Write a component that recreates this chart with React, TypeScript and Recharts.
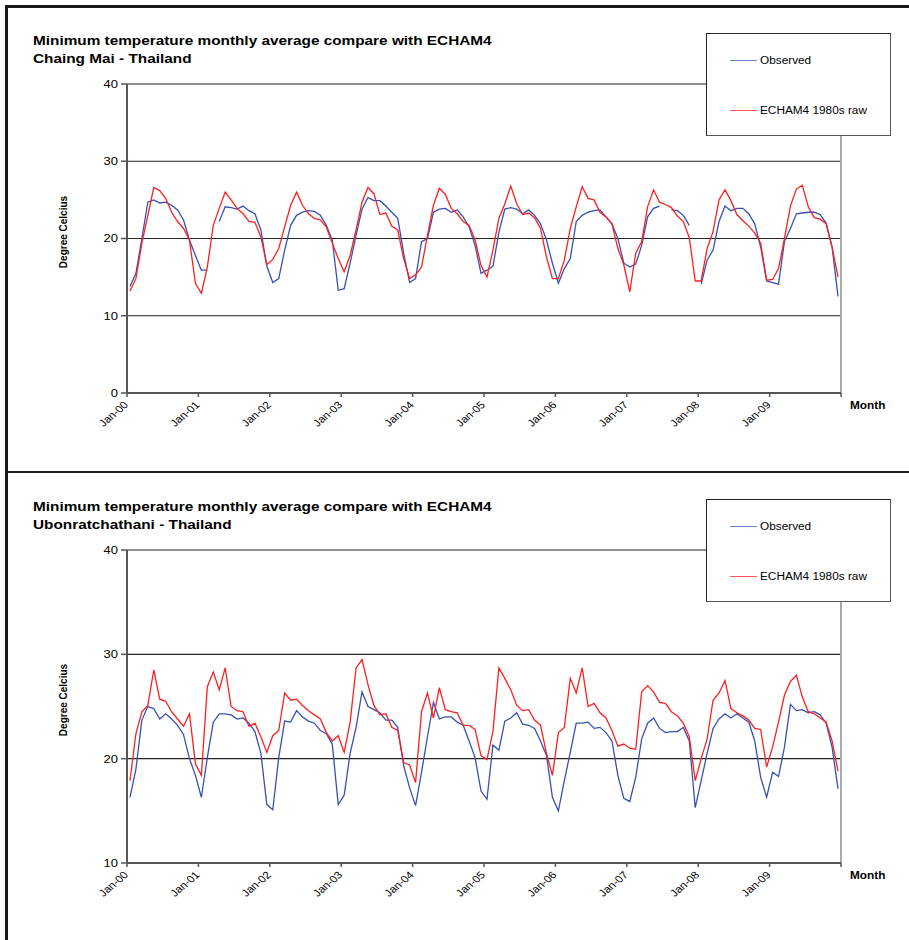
import React from 'react';
import { LineChart, Line, XAxis, YAxis, CartesianGrid, ReferenceLine } from 'recharts';

// one label per January, Jan-00 .. Jan-09 (axis runs over 120 months)
const yearLabels = ['Jan-00', 'Jan-01', 'Jan-02', 'Jan-03', 'Jan-04', 'Jan-05', 'Jan-06', 'Jan-07', 'Jan-08', 'Jan-09'];
const seriesNames = ['Observed', 'ECHAM4 1980s raw'];

// Chaing Mai, monthly min temperature (deg C), Jan-00 .. Dec-09, one row per year
const chiangMaiObserved: (number | null)[] = [
    13.8, 15.5, 20.0, 24.7, 25.0, 24.6, 24.7, 24.3, 23.7, 22.4, 19.8, 17.8,
    15.9, 15.9, null, 22.2, 24.1, 24.0, 23.8, 24.2, 23.6, 23.2, 21.1, 16.4,
    14.3, 14.8, 18.5, 21.7, 23.0, 23.4, 23.6, 23.5, 23.0, 21.7, 19.8, 13.3,
    13.5, 16.8, 20.4, 23.8, 25.3, 24.9, 24.9, 24.2, 23.4, 22.6, 18.1, 14.3,
    14.8, 19.6, 20.0, 23.4, 23.8, 23.9, 23.4, 23.7, 22.8, 21.5, 19.1, 15.5,
    15.9, 16.4, 20.8, 23.8, 24.0, 23.8, 23.2, 23.7, 23.0, 21.9, 19.8, 16.8,
    14.2, 16.1, 17.4, 22.2, 23.0, 23.4, 23.6, 23.7, 22.8, 21.9, 20.0, 16.8,
    16.3, 16.7, 19.1, 22.8, 23.9, 24.2, null, 23.7, 23.6, 23.0, 21.7, null,
    14.1, 17.2, 18.5, 22.2, 24.2, 23.6, 23.9, 23.9, 23.2, 21.9, 18.9, 14.5,
    14.3, 14.1, 19.6, 21.3, 23.2, 23.3, 23.4, 23.4, 23.1, 22.0, 18.9, 12.5,
];
const chiangMaiEcham: number[] = [
    13.2, 14.8, 19.4, 23.0, 26.6, 26.2, 25.2, 23.4, 22.2, 21.3, 19.8, 14.2,
    12.9, 16.3, 21.7, 23.9, 26.0, 25.0, 23.9, 23.2, 22.2, 22.1, 20.2, 16.6,
    17.3, 18.7, 21.5, 24.3, 26.0, 24.3, 23.2, 22.6, 22.4, 21.5, 19.4, 17.4,
    15.7, 17.8, 21.1, 24.7, 26.6, 25.8, 23.1, 23.3, 21.6, 21.1, 17.4, 14.8,
    15.3, 16.3, 20.4, 24.3, 26.5, 25.7, 23.9, 23.2, 22.2, 21.7, 19.8, 16.5,
    15.0, 18.5, 22.6, 24.5, 26.8, 24.5, 23.1, 23.3, 22.7, 21.3, 17.6, 14.8,
    14.8, 17.2, 21.3, 24.1, 26.7, 25.2, 25.0, 23.4, 22.8, 21.9, 18.7, 16.6,
    13.1, 18.1, 19.6, 24.1, 26.3, 24.7, 24.4, 24.0, 22.9, 22.2, 20.1, 14.5,
    14.5, 18.7, 20.9, 25.0, 26.3, 24.9, 23.1, 22.3, 21.6, 20.7, 19.4, 14.6,
    14.7, 16.1, 20.0, 24.2, 26.4, 26.9, 24.1, 22.7, 22.5, 21.9, 18.9, 15.0,
];

// Ubonratchathani
const ubonObserved: number[] = [
    16.3, 19.0, 23.7, 25.0, 24.8, 23.8, 24.3, 23.8, 23.2, 22.3, 20.0, 18.4,
    16.3, 20.1, 23.5, 24.3, 24.3, 24.2, 23.8, 23.9, 23.4, 22.6, 20.5, 15.6,
    15.1, 20.1, 23.6, 23.5, 24.6, 24.0, 23.6, 23.4, 22.7, 22.4, 21.4, 15.6,
    16.5, 20.5, 23.0, 26.4, 25.0, 24.7, 24.4, 23.7, 23.7, 23.0, 19.3, 17.2,
    15.5, 18.7, 22.1, 25.4, 23.8, 24.0, 24.0, 23.5, 23.2, 21.7, 20.1, 16.9,
    16.1, 21.3, 20.8, 23.6, 23.9, 24.4, 23.3, 23.2, 22.9, 21.7, 20.3, 16.3,
    15.0, 17.9, 20.6, 23.4, 23.4, 23.5, 22.9, 23.0, 22.5, 21.7, 18.4, 16.2,
    15.9, 18.2, 21.9, 23.4, 23.9, 22.9, 22.5, 22.6, 22.6, 23.0, 21.7, 15.3,
    17.9, 20.5, 22.9, 23.8, 24.3, 23.9, 24.3, 23.9, 23.5, 21.7, 18.2, 16.3,
    18.7, 18.3, 21.1, 25.2, 24.6, 24.7, 24.4, 24.5, 24.2, 23.4, 21.1, 17.1,
];
const ubonEcham: number[] = [
    17.9, 22.4, 24.5, 25.1, 28.5, 25.7, 25.5, 24.5, 23.8, 23.1, 24.3, 19.5,
    18.4, 26.9, 28.3, 26.6, 28.7, 25.0, 24.6, 24.5, 23.1, 23.4, 22.1, 20.6,
    22.2, 22.7, 26.3, 25.6, 25.7, 25.1, 24.6, 24.2, 23.8, 22.5, 21.7, 22.2,
    20.6, 23.5, 28.7, 29.5, 27.1, 25.1, 24.2, 24.3, 23.0, 22.7, 19.6, 19.4,
    17.7, 24.5, 26.3, 23.9, 26.8, 24.7, 24.5, 24.4, 23.2, 23.2, 22.8, 20.3,
    19.9, 22.6, 28.7, 27.7, 26.6, 25.1, 24.6, 24.7, 23.7, 23.2, 20.5, 18.4,
    22.5, 23.0, 27.7, 26.3, 28.7, 25.0, 25.3, 24.4, 23.9, 22.7, 21.2, 21.4,
    21.0, 20.9, 26.4, 27.0, 26.4, 25.4, 25.3, 24.5, 24.1, 23.4, 22.1, 17.9,
    20.0, 21.9, 25.6, 26.3, 27.5, 24.8, 24.4, 24.1, 23.7, 22.9, 22.8, 19.2,
    21.1, 23.5, 26.1, 27.4, 28.0, 25.9, 24.5, 24.3, 23.9, 23.5, 21.7, 18.8,
];

const BLUE = '#3452b4';
const RED = '#ff1f1f';
const FONT = 'Arial, "Liberation Sans", Helvetica, sans-serif';
const STRETCH = 1.18; // the source picture is a little wider than tall

const monthTicks = [0, 12, 24, 36, 48, 60, 72, 84, 96, 108, 120];

const YTick = (props: any) => {
    const { x, y, payload } = props;
    return (
        <g transform={`translate(${x},${y}) scale(${STRETCH},1)`}>
            <text x={0} y={0} dy="0.36em" textAnchor="end" fontSize={11} fill="#000" fontFamily={FONT}>
                {payload.value}
            </text>
        </g>
    );
};

const XTick = (props: any) => {
    const { x, y, payload } = props;
    const label = yearLabels[payload.value / 12] ?? '';
    return (
        <g transform={`translate(${x - 1},${y}) scale(${STRETCH},1) rotate(-45)`}>
            <text x={0} y={0} dy="0.36em" textAnchor="end" fontSize={10} fill="#000" fontFamily={FONT}>
                {label}
            </text>
        </g>
    );
};

interface PanelProps {
    top: number;
    height: number;
    place: string;
    observed: (number | null)[];
    echam: number[];
    yMin: number;
    plotTop: number;
    plotBottom: number;
    titleTop: number;
    labelY: number;
    legendTop: number;
}

const Panel: React.FC<PanelProps> = ({ top, height, place, observed, echam, yMin, plotTop, plotBottom, titleTop, labelY, legendTop }) => {
    const data = echam.map((v, i) => ({ m: i + 0.5, obs: observed[i], echam: v }));
    const yTicks = [];
    for (let t = yMin; t <= 40; t += 10) yTicks.push(t);
    const marginTop = plotTop - top;
    const marginBottom = top + height - plotBottom - 60;

    return (
        <div style={{ position: 'absolute', left: 0, top, width: 909, height }}>
            <LineChart width={909} height={height} data={data}
                margin={{ top: marginTop, right: 68, bottom: marginBottom, left: 0 }}>
                <CartesianGrid vertical={false} stroke="#222" strokeWidth={1.2} />
                <XAxis dataKey="m" type="number" domain={[0, 120]} ticks={monthTicks} interval={0}
                    height={60} tickSize={4} tickMargin={6} tick={<XTick />}
                    axisLine={{ stroke: '#555', strokeWidth: 2 }} tickLine={{ stroke: '#555', strokeWidth: 1.5 }} />
                <YAxis domain={[yMin, 40]} ticks={yTicks} width={127} tickSize={6} tickMargin={3}
                    tick={<YTick />} axisLine={{ stroke: '#555', strokeWidth: 2 }} tickLine={{ stroke: '#555', strokeWidth: 1.5 }} />
                <ReferenceLine x={120} stroke="#aaa" strokeWidth={2} />
                <Line type="linear" dataKey="obs" name={seriesNames[0]} stroke={BLUE} strokeWidth={1.3}
                    dot={false} isAnimationActive={false} />
                <Line type="linear" dataKey="echam" name={seriesNames[1]} stroke={RED} strokeWidth={1.3}
                    dot={false} isAnimationActive={false} />
            </LineChart>

            <div style={{ ...styles.title, top: titleTop - top }}>
                <div><span style={styles.stretch}>Minimum temperature monthly average compare with ECHAM4</span></div>
                <div><span style={styles.stretch}>{place} - Thailand</span></div>
            </div>

            <div style={{ ...styles.yLabel, top: labelY - top }}>Degree Celcius</div>

            <div style={{ ...styles.month, top: plotBottom - top + 7 }}>
                <span style={styles.stretch}>Month</span>
            </div>

            <div style={{ ...styles.legend, top: legendTop - top }}>
                {seriesNames.map((name, k) => (
                    <div key={name} style={{ position: 'absolute', left: 23, top: 21 + k * 50, display: 'flex', alignItems: 'center' }}>
                        <div style={{ width: 27, height: 1, background: k === 0 ? BLUE : RED, opacity: 0.75 }} />
                        <span style={{ ...styles.stretch, fontSize: 10, marginLeft: 3 }}>{name}</span>
                    </div>
                ))}
            </div>
        </div>
    );
};

export default function App() {
    return (
        <div style={styles.page}>
            <Panel top={5} height={465} place="Chaing Mai" observed={chiangMaiObserved} echam={chiangMaiEcham}
                yMin={0} plotTop={84} plotBottom={393} titleTop={32} labelY={232} legendTop={33} />
            <Panel top={470} height={470} place="Ubonratchathani" observed={ubonObserved} echam={ubonEcham}
                yMin={10} plotTop={550} plotBottom={863} titleTop={498} labelY={700} legendTop={499} />

            <div style={{ position: 'absolute', left: 5, top: 5, width: 904, height: 2.5, background: '#1a1a1a' }} />
            <div style={{ position: 'absolute', left: 5, top: 470.5, width: 904, height: 2.5, background: '#1a1a1a' }} />
            <div style={{ position: 'absolute', left: 5, top: 5, width: 2.5, height: 935, background: '#1a1a1a' }} />
        </div>
    );
}

const styles: { [k: string]: React.CSSProperties } = {
    page: { position: 'absolute', left: 0, top: 0, width: 909, height: 940, background: '#fff', overflow: 'hidden', fontFamily: FONT },
    stretch: { display: 'inline-block', transform: `scaleX(${STRETCH})`, transformOrigin: 'left center', whiteSpace: 'nowrap' },
    title: { position: 'absolute', left: 33, fontSize: 13, fontWeight: 700, lineHeight: '18px', color: '#000' },
    yLabel: {
        position: 'absolute', left: 63, width: 0, height: 0, fontSize: 10, fontWeight: 700, color: '#000',
        display: 'flex', alignItems: 'center', justifyContent: 'center', transform: 'rotate(-90deg)', whiteSpace: 'nowrap',
    },
    month: { position: 'absolute', left: 850, fontSize: 10, fontWeight: 700, color: '#000' },
    legend: {
        position: 'absolute', left: 706, width: 185, height: 103, background: '#fff',
        border: '1px solid #222', borderRightColor: '#555', borderBottomColor: '#555', boxSizing: 'border-box',
    },
};
